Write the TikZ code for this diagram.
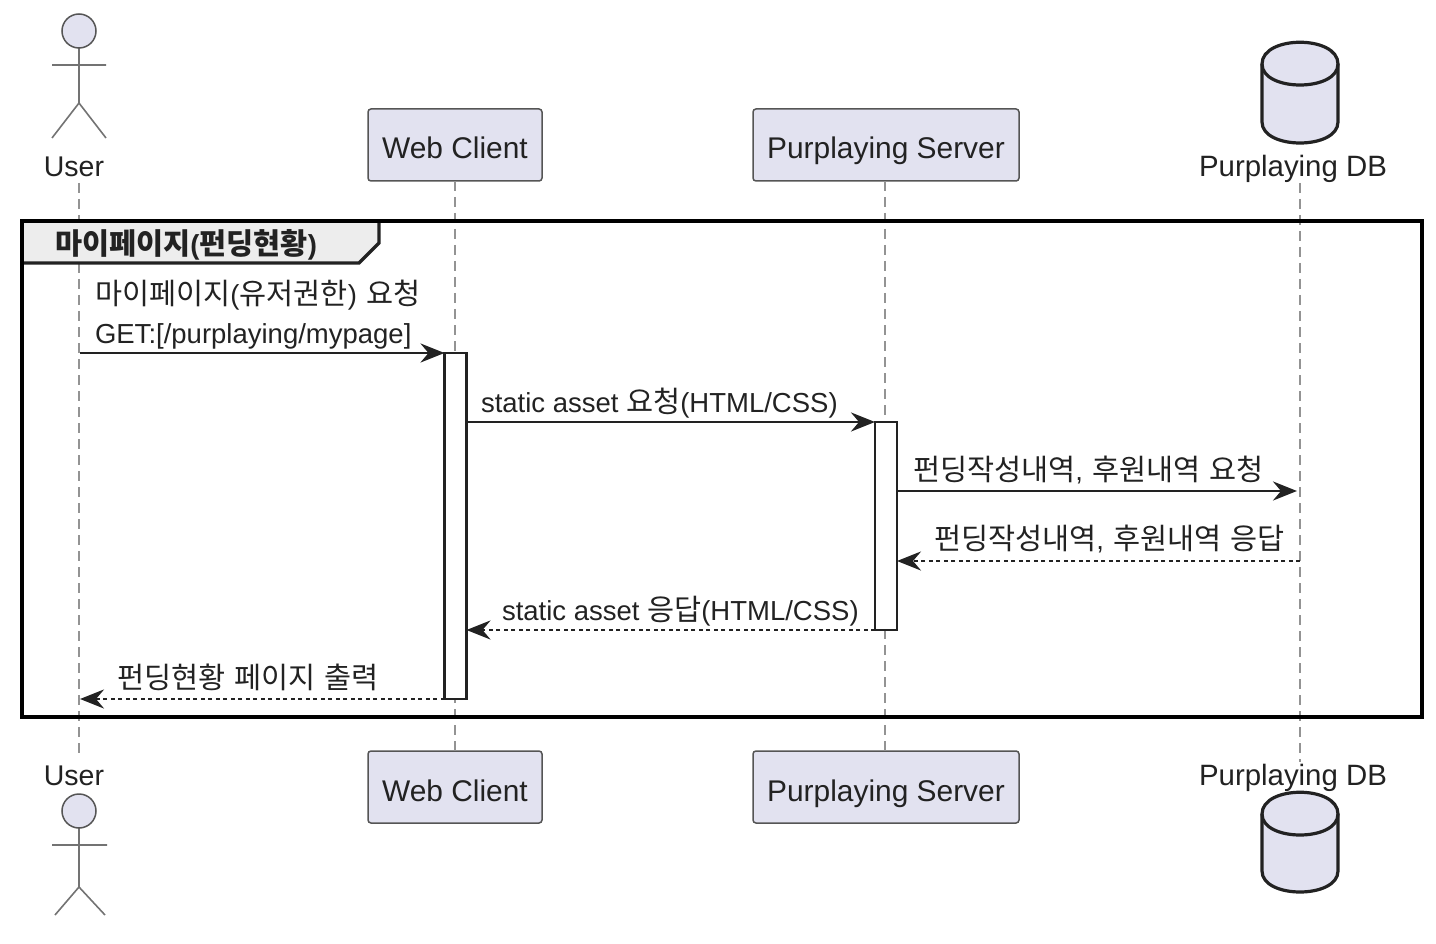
\documentclass[tikz,border=0pt]{standalone}
\usepackage{fontspec}
\setmainfont{Liberation Sans}
\newfontfamily\krf[Scale=1.07]{Noto Sans CJK KR}
\newcommand{\kr}[1]{{\krf #1}}
\newcommand{\ksp}{\hspace{0.33em}}
\usetikzlibrary{arrows.meta}
\definecolor{partfill}{HTML}{E2E2F0}
\definecolor{ink}{HTML}{222222}
\definecolor{edge}{HTML}{555555}
\tikzset{
  every node/.style={inner sep=0pt,outer sep=0pt,text=ink},
  lifeline/.style={draw=gray!85,line width=1.6pt,dash pattern=on 10pt off 6pt},
  partbox/.style={draw=edge,fill=partfill,rounded corners=3pt,line width=1.5pt,minimum height=72pt,text height=28pt,text depth=0pt,font=\fontsize{29.9}{32}\selectfont},
  plabel/.style={anchor=base,font=\fontsize{29.4}{32}\selectfont},
  ulabel/.style={anchor=base,font=\fontsize{28.5}{32}\selectfont},
  msg/.style={anchor=base west,font=\fontsize{27.5}{30}\selectfont},
  actbar/.style={draw=ink,fill=white,line width=2.6pt,minimum width=22pt},
  stick/.style={draw=gray!90!black,line width=1.6pt,fill=none},
  head/.style={draw=edge,fill=partfill,line width=1.5pt},
  cyl/.style={draw=ink,fill=partfill,line width=3.2pt},
  call/.style={draw=ink,line width=2.5pt,-{Stealth[length=24pt,width=19pt,inset=8pt,fill=ink]}},
  reply/.style={draw=ink,line width=2.5pt,dash pattern=on 4pt off 3.5pt,-{Stealth[length=24pt,width=19pt,inset=8pt,fill=ink]}},
}
\begin{document}
\begin{tikzpicture}[x=1pt,y=-1pt]
\useasboundingbox (0,0) rectangle (1436,944);
% participants
\node[partbox,minimum width=174pt] (wct) at (455,145) {Web Client};
\node[partbox,minimum width=266pt] (pst) at (886,145) {Purplaying Server};
\node[partbox,minimum width=174pt] (wcb) at (455,787) {Web Client};
\node[partbox,minimum width=266pt] (psb) at (886,787) {Purplaying Server};
\node[ulabel] (ut) at (74,177) {User};
\node[ulabel] (ub) at (74,785) {User};
\node[plabel] (dt) at (1293,177) {Purplaying DB};
\node[plabel] (db) at (1293,785) {Purplaying DB};
% lifelines
\coordinate (ua) at (79,183); \coordinate (uz) at (79,755);
\coordinate (da) at (1300,183); \coordinate (dz) at (1300,762);
\coordinate (wa) at (455,181); \coordinate (wz) at (455,751);
\coordinate (pa) at (885,181); \coordinate (pz) at (885,751);
\draw[lifeline] (ua) -- (uz);
\draw[lifeline] (wa) -- (wz);
\draw[lifeline] (pa) -- (pz);
\draw[lifeline] (da) -- (dz);
% actors
\draw[stick] (79,48) -- (79,103) (52,65) -- (106,65) (52,138) -- (79,103) -- (106,138);
\node[head,circle,minimum size=34pt] (hd1) at (79,31) {};
\draw[stick] (79,828) -- (79,887) (52,845) -- (107,845) (55,915) -- (79,887) -- (105,915);
\node[head,circle,minimum size=34pt] (hd2) at (79,811) {};
% databases
\draw[cyl] (1262,64) .. controls (1262,35) and (1338,35) .. (1338,64) -- (1338,122)
  .. controls (1338,150) and (1262,150) .. (1262,122) -- cycle;
\draw[cyl,fill=none] (1262,64) .. controls (1262,92) and (1338,92) .. (1338,64);
\draw[cyl] (1262,814) .. controls (1262,785) and (1338,785) .. (1338,814) -- (1338,871)
  .. controls (1338,899) and (1262,899) .. (1262,871) -- cycle;
\draw[cyl,fill=none] (1262,814) .. controls (1262,842) and (1338,842) .. (1338,814);
% frame
\draw[fill=black!7,draw=ink,line width=3.2pt] (22,221) -- (379,221) -- (379,243) -- (359,263) -- (22,263) -- cycle;
\draw[black,line width=3.6pt] (22,221) rectangle (1422,717);
\node[anchor=base west,font=\fontsize{27.5}{30}\selectfont\bfseries] (ft) at (55,255) {\kr{\bfseries 마이페이지}(\kr{\bfseries 펀딩현황})};
% activations
\node[actbar,anchor=north,minimum height=346pt] (a1) at (455.5,353) {};
\node[actbar,anchor=north,minimum height=208pt] (a2) at (886,422) {};
% messages
\coordinate (m1s) at (80,353); \coordinate (m6e) at (80,699);
\coordinate (m3e) at (1297,491); \coordinate (m4s) at (1300,561);
\coordinate (a1m2) at (a1.north east |- 0,422);
\coordinate (a2m2) at (a2.north west |- 0,422);
\coordinate (a2m3) at (a2.north east |- 0,491);
\coordinate (a2m4) at (a2.north east |- 0,561);
\coordinate (a2m5) at (a2.north west |- 0,630);
\coordinate (a1m5) at (a1.north east |- 0,630);
\coordinate (a1m6) at (a1.north west |- 0,699);
\draw[call] (m1s) -- (a1.north west);
\draw[call] (a1m2) -- (a2m2);
\draw[call] (a2m3) -- (m3e);
\draw[reply] (m4s) -- (a2m4);
\draw[reply] (a2m5) -- (a1m5);
\draw[reply] (a1m6) -- (m6e);
\node[msg] (t1a) at (95,305) {\kr{마이페이지}(\kr{유저권한})\ksp\kr{요청}};
\node[msg] (t1b) at (95,343) {GET:[/purplaying/mypage]};
\node[msg] (t2) at (481,412) {static asset \kr{요청}(HTML/CSS)};
\node[msg] (t3) at (913,480) {\kr{펀딩작성내역},\ksp\kr{후원내역}\ksp\kr{요청}};
\node[msg] (t4) at (934,549) {\kr{펀딩작성내역},\ksp\kr{후원내역}\ksp\kr{응답}};
\node[msg] (t5) at (502,620) {static asset \kr{응답}(HTML/CSS)};
\node[msg] (t6) at (117,688) {\kr{펀딩현황}\ksp\kr{페이지}\ksp\kr{출력}};
\end{tikzpicture}
\end{document}
